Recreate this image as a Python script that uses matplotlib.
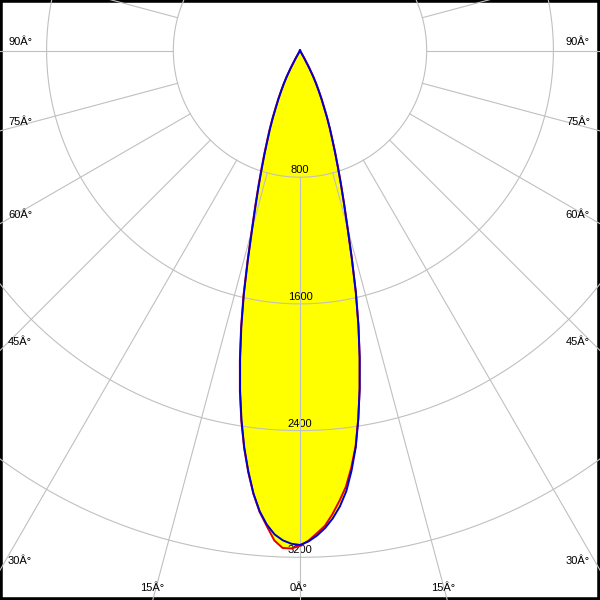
import numpy as np
import matplotlib.pyplot as plt

# Luminous intensity (cd) vs. angle from nadir
angles = np.arange(0, 31)  # degrees
# C90 / C270 plane (blue)
blue_c90 = [3122, 3100, 3065, 3020, 2962, 2890, 2798, 2672, 2530, 2355,
            2170, 1975, 1775, 1568, 1352, 1162, 1012, 886, 775, 680,
            594, 524, 455, 386, 332, 278, 230, 180, 120, 55, 0]
blue_c270 = [3122, 3115, 3095, 3060, 3001, 2921, 2812, 2678, 2530, 2362,
             2179, 1982, 1782, 1575, 1359, 1168, 1018, 891, 779, 684,
             597, 527, 457, 388, 334, 280, 232, 182, 122, 55, 0]
# C0 / C180 plane (red)
red_c0 = [3128, 3095, 3050, 3005, 2935, 2855, 2770, 2655, 2522, 2352,
          2168, 1975, 1775, 1568, 1352, 1162, 1012, 886, 775, 680,
          594, 524, 455, 386, 332, 278, 230, 180, 120, 55, 0]
red_c180 = [3128, 3145, 3143, 3098, 3010, 2925, 2815, 2682, 2535, 2368,
            2186, 1990, 1790, 1585, 1368, 1178, 1028, 902, 790, 695,
            608, 538, 467, 398, 342, 287, 238, 186, 125, 57, 0]

rings = [800, 1600, 2400, 3200, 4000]
ring_labels = ["800", "1600", "2400", "3200"]
spoke_step = 15
edge_labels = [90, 75, 60, 45, 30, 15, 0]

# view window in cd units (centre of the diagram sits near the top)
cd_per_px = 800 / 126.7
xmax = 300 * cd_per_px
ymax = 50.5 * cd_per_px
ymin = -549.5 * cd_per_px


def curve(left, right):
    """closed outline: apex -> down the left side -> up the right side"""
    th = np.radians(angles)
    left = np.asarray(left, float)
    right = np.asarray(right, float)
    xl, yl = -left * np.sin(th), -left * np.cos(th)
    xr, yr = right * np.sin(th), -right * np.cos(th)
    x = np.concatenate([xl[::-1], xr])
    y = np.concatenate([yl[::-1], yr])
    return x, y


plt.rcParams['font.family'] = ['Liberation Sans', 'DejaVu Sans']

fig = plt.figure(figsize=(6, 6), dpi=100)
ax = fig.add_axes([0, 0, 1, 1])
ax.set_xlim(-xmax, xmax)
ax.set_ylim(ymin, ymax)
ax.set_xticks([])
ax.set_yticks([])
for sp in ax.spines.values():
    sp.set_linewidth(4)
    sp.set_color('black')

xr_, yr_ = curve(red_c180, red_c0)
xb_, yb_ = curve(blue_c270, blue_c90)

# yellow fill under both planes
ax.fill(xr_, yr_, color='#ffff00', lw=0, zorder=1)
ax.fill(xb_, yb_, color='#ffff00', lw=0, zorder=1)

# grid: rings and spokes (spokes start at the first ring)
grid_col = '#c0c0c0'
t = np.linspace(0, 2 * np.pi, 721)
for r in rings:
    ax.plot(r * np.sin(t), r * np.cos(t), color=grid_col, lw=0.8, zorder=3)
for a in range(0, 360, spoke_step):
    ar = np.radians(a)
    ax.plot([rings[0] * np.sin(ar), rings[-1] * np.sin(ar)],
            [-rings[0] * np.cos(ar), -rings[-1] * np.cos(ar)],
            color=grid_col, lw=0.8, zorder=3)

# ring values, centred on the 0 deg axis just above each ring
for r, lab in zip(rings, ring_labels):
    ax.annotate(lab, (0, -r), xytext=(0, 7), textcoords='offset pixels',
                ha='center', va='center', fontsize=8, zorder=2)

# angle labels where the spokes leave the frame
for a in edge_labels:
    ar = np.radians(a)
    for side in (-1, 1):
        if a == 0 and side == 1:
            continue
        if a > 0 and xmax / np.sin(ar) * np.cos(ar) <= -ymin:
            px, py = side * xmax, -xmax / np.tan(ar)
            off = (8, 9) if side < 0 else (-10, 9)
            ha = 'left' if side < 0 else 'right'
        else:
            px, py = side * (-ymin) * np.tan(ar), ymin
            off = (-1, 12) if side < 0 else (-4, 12)
            ha = 'center'
        ax.annotate(f"{a}Â°", (px, py), xytext=off, textcoords='offset pixels',
                    ha=ha, va='center', fontsize=8, zorder=6,
                    annotation_clip=False)

# photometric curves
ax.plot(xr_, yr_, color='#e00000', lw=1.4, zorder=4)
ax.plot(xb_, yb_, color='#0000d0', lw=1.4, zorder=5)

fig.savefig('out.png', dpi=100)
